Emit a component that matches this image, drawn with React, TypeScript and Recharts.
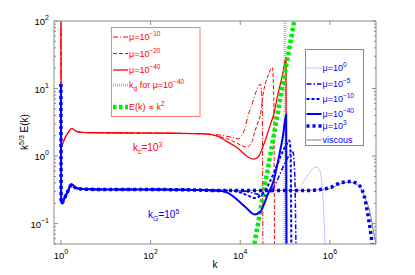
import React from 'react';
import { LineChart, Line, XAxis, YAxis } from 'recharts';

type Pt = [number, number];

const FONT = '"Liberation Sans", Arial, Helvetica, sans-serif';
const AXIS = '#8c8c8c';
const RED = '#ff0000';
const BLUE = '#0000ff';

const xTickExps = [0, 2, 4, 6];
const minorMults = [2, 3, 4, 5, 6, 7, 8, 9];
const xDomain: [number, number] = [0.7, 1.07e7];
const yDomain: [number, number] = [0.05, 100];

// k_d for mu = 1e-40, drawn as a vertical marker
const kdLine: Pt[] = [[1e5, 0.05], [1e5, 100]];

// red family, k_c = 1e3
const redStart: Pt[] = [[1, 100], [1.01, 1.44], [1.3, 2.0], [1.75, 2.55], [2.3, 2.3], [4, 2.22], [30, 2.2], [300, 2.18], [1500, 2.14]];
const red10: Pt[] = [[3200, 2.07], [6400, 1.9], [9100, 1.8], [1.07e4, 2.0], [1.3e4, 2.7], [1.5e4, 4.0], [1.8e4, 5.6], [2.3e4, 9.3], [2.8e4, 11.7], [3.1e4, 6], [3.2e4, 0.05]];
const red20: Pt[] = [[3200, 1.97], [6400, 1.7], [1.07e4, 1.44], [1.4e4, 1.36], [1.8e4, 1.6], [2.1e4, 2.26], [2.5e4, 3.2], [2.8e4, 4.0], [3.3e4, 8.8], [4.3e4, 16.4], [5.2e4, 20.5], [5.6e4, 8], [5.8e4, 0.05]];
const red40: Pt[] = [[3000, 2.0], [5000, 1.65], [9000, 1.3], [1.5e4, 0.97], [2e4, 0.9], [2.5e4, 0.97], [3.5e4, 1.6], [4.6e4, 2.8], [5.5e4, 4.0], [7e4, 8.5], [9e4, 17], [1.05e5, 29], [1.07e5, 0.05]];

// E(k) ~ k^2 reference
const greenK2: Pt[] = [[2.07e4, 0.05], [1.6e5, 100]];

// blue family, k_G = 1e5
const blueStart: Pt[] = [[1, 11.7], [1.01, 0.2], [1.35, 0.28], [1.75, 0.38], [2.1, 0.34], [3, 0.325], [10, 0.32], [100, 0.32], [1000, 0.315], [3000, 0.31]];
const blue0: Pt[] = [[1e5, 0.31], [1.8e5, 0.31], [3e5, 0.49], [5e5, 0.69], [6e5, 0.6], [6.8e5, 0.33], [7.4e5, 0.12], [7.8e5, 0.05]];
const blue5: Pt[] = [[8000, 0.31], [1.4e4, 0.3], [2.1e4, 0.28], [3.6e4, 0.26], [5e4, 0.31], [6.5e4, 0.42], [8.4e4, 0.62], [1.1e5, 0.9], [1.5e5, 1.15], [1.65e5, 0.5], [1.75e5, 0.05]];
const blue10: Pt[] = [[5000, 0.31], [1e4, 0.29], [1.5e4, 0.26], [2.1e4, 0.24], [2.8e4, 0.26], [3.6e4, 0.31], [4.6e4, 0.42], [6e4, 0.62], [8e4, 1.0], [1.05e5, 1.45], [1.25e5, 1.7], [1.33e5, 1.1], [1.38e5, 0.05]];
const blue40: Pt[] = [[5000, 0.29], [7700, 0.24], [1.3e4, 0.177], [2.1e4, 0.137], [2.8e4, 0.15], [4.2e4, 0.28], [5.5e4, 0.42], [7e4, 0.85], [9e4, 2.0], [1.06e5, 4.1], [1.08e5, 0.05]];
const blue3: Pt[] = [[3e5, 0.31], [6e5, 0.32], [1e6, 0.34], [1.7e6, 0.4], [2.8e6, 0.42], [4.3e6, 0.38], [5.8e6, 0.26], [7e6, 0.14], [8e6, 0.08], [8.8e6, 0.05]];
const viscous: Pt[] = [[3e5, 0.31], [6e5, 0.32], [1e6, 0.33], [1.7e6, 0.39], [2.8e6, 0.41], [4.3e6, 0.37], [6.2e6, 0.235], [7.8e6, 0.15], [9.9e6, 0.064], [1.07e7, 0.05]];

interface Style { stroke: string; width: number; dash?: string }

const sRed10: Style = { stroke: RED, width: 1, dash: '5 2 1 2' };
const sRed20: Style = { stroke: RED, width: 1, dash: '4 2' };
const sRed40: Style = { stroke: RED, width: 1.3 };
const sKd: Style = { stroke: '#ff9a9a', width: 3, dash: '1 1' };
const sGreen: Style = { stroke: '#00ee00', width: 4.5, dash: '3.5 2.5' };
const sBlue0: Style = { stroke: '#8c8cff', width: 1, dash: '1 1' };
const sBlue5: Style = { stroke: BLUE, width: 1.5, dash: '5 2 1.5 2' };
const sBlue10: Style = { stroke: BLUE, width: 2, dash: '3 2' };
const sBlue40: Style = { stroke: BLUE, width: 2 };
const sBlue3: Style = { stroke: BLUE, width: 3.5, dash: '3 3' };
const sVisc: Style = { stroke: '#808080', width: 1 };

const series: { key: string; pts: Pt[]; s: Style; curve: 'monotone' | 'linear' }[] = [
  { key: 'kd', pts: kdLine, s: sKd, curve: 'linear' },
  { key: 'red10', pts: [...redStart, ...red10], s: sRed10, curve: 'monotone' },
  { key: 'red20', pts: [...redStart, ...red20], s: sRed20, curve: 'monotone' },
  { key: 'red40', pts: [...redStart, ...red40], s: sRed40, curve: 'monotone' },
  { key: 'green', pts: greenK2, s: sGreen, curve: 'linear' },
  { key: 'viscous', pts: [...blueStart, ...viscous], s: sVisc, curve: 'monotone' },
  { key: 'blue0', pts: [...blueStart, ...blue0], s: sBlue0, curve: 'monotone' },
  { key: 'blue5', pts: [...blueStart, ...blue5], s: sBlue5, curve: 'monotone' },
  { key: 'blue10', pts: [...blueStart, ...blue10], s: sBlue10, curve: 'monotone' },
  { key: 'blue40', pts: [...blueStart, ...blue40], s: sBlue40, curve: 'monotone' },
  { key: 'blue3', pts: [...blueStart, ...blue3], s: sBlue3, curve: 'monotone' },
];

const xTicks = xTickExps.map((e) => 10 ** e);
const yTicks: number[] = [];
for (let e = -2; e <= 2; e++) {
  for (const m of [1, ...minorMults]) {
    const v = m * 10 ** e;
    if (v >= yDomain[0] - 1e-9 && v <= yDomain[1] + 1e-9) yTicks.push(v);
  }
}

const isMajor = (v: number) => Math.abs(Math.log10(v) - Math.round(Math.log10(v))) < 1e-6;
const expText = (v: number) => {
  const e = Math.round(Math.log10(v));
  return e < 0 ? '\u2212' + Math.abs(e) : String(e);
};

const BottomTick = (p: any) => (
  <g>
    <line x1={p.x} x2={p.x} y1={p.y} y2={p.y - 4} stroke={AXIS} />
    <text x={p.x} y={p.y + 15} textAnchor="middle" fontSize={9.5} fontFamily={FONT} fill="#000">
      10<tspan dy={-5} fontSize={7}>{expText(p.payload.value)}</tspan>
    </text>
  </g>
);
const TopTick = (p: any) => <line x1={p.x} x2={p.x} y1={p.y} y2={p.y + 4} stroke={AXIS} />;
const LeftTick = (p: any) => {
  const major = isMajor(p.payload.value);
  return (
    <g>
      <line x1={p.x} x2={p.x + (major ? 4 : 2)} y1={p.y} y2={p.y} stroke={AXIS} />
      {major && (
        <text x={p.x - 5} y={p.y + 4} textAnchor="end" fontSize={9.5} fontFamily={FONT} fill="#000">
          10<tspan dy={-5} fontSize={7}>{expText(p.payload.value)}</tspan>
        </text>
      )}
    </g>
  );
};
const RightTick = (p: any) => {
  const major = isMajor(p.payload.value);
  return <line x1={p.x} x2={p.x - (major ? 4 : 2)} y1={p.y} y2={p.y} stroke={AXIS} />;
};

const SUP = 6.5;

function LegendRow({ x, y, s, color, children }: { x: number; y: number; s: Style; color: string; children: React.ReactNode }) {
  return (
    <g>
      <line x1={x} x2={x + 15} y1={y - 3} y2={y - 3} stroke={s.stroke} strokeWidth={s.width} strokeDasharray={s.dash} />
      <text x={x + 16} y={y} fontSize={9} fontFamily={FONT} fill={color}>
        {children}
      </text>
    </g>
  );
}

function Overlay() {
  return (
    <svg width={415} height={275} style={{ position: 'absolute', left: 0, top: 0, pointerEvents: 'none' }}>
      <text transform="translate(28,132) rotate(-90)" textAnchor="middle" fontSize={10} fontFamily={FONT} fill="#000">
        k<tspan dy={-4} fontSize={7}>5/3</tspan><tspan dy={4}> E(k)</tspan>
      </text>
      <text x={215} y={268} textAnchor="middle" fontSize={10} fontFamily={FONT} fill="#000">k</text>

      <text x={133} y={151} fontSize={10} fontFamily={FONT} fill={RED}>
        k<tspan dy={3} fontSize={7}>c</tspan><tspan dy={-3}>=10</tspan><tspan dy={-4} fontSize={7}>3</tspan>
      </text>
      <text x={148} y={218} fontSize={10} fontFamily={FONT} fill={BLUE}>
        k<tspan dy={3} fontSize={7}>G</tspan><tspan dy={-3}>=10</tspan><tspan dy={-4} fontSize={7}>5</tspan>
      </text>

      <rect x={111.5} y={27.5} width={88.5} height={89} fill="#fff" stroke="#ff7a7a" />
      <LegendRow x={113} y={40} s={sRed10} color={RED}>μ=10<tspan dy={-4} fontSize={SUP}>−10</tspan></LegendRow>
      <LegendRow x={113} y={56.5} s={sRed20} color={RED}>μ=10<tspan dy={-4} fontSize={SUP}>−20</tspan></LegendRow>
      <LegendRow x={113} y={73} s={sRed40} color={RED}>μ=10<tspan dy={-4} fontSize={SUP}>−40</tspan></LegendRow>
      <LegendRow x={113} y={88} s={sKd} color={RED}>
        k<tspan dy={2.5} fontSize={SUP}>d</tspan><tspan dy={-2.5}> for μ=10</tspan><tspan dy={-4} fontSize={SUP}>−40</tspan>
      </LegendRow>
      <LegendRow x={113} y={110} s={sGreen} color={RED}>E(k) ∝ k<tspan dy={-4} fontSize={SUP}>2</tspan></LegendRow>

      <rect x={305.5} y={49.5} width={58} height={96} fill="#fff" stroke="#7a7aff" />
      <LegendRow x={306.5} y={71} s={sBlue0} color={BLUE}>μ=10<tspan dy={-4} fontSize={SUP}>0</tspan></LegendRow>
      <LegendRow x={306.5} y={87} s={sBlue5} color={BLUE}>μ=10<tspan dy={-4} fontSize={SUP}>−5</tspan></LegendRow>
      <LegendRow x={306.5} y={102} s={sBlue10} color={BLUE}>μ=10<tspan dy={-4} fontSize={SUP}>−10</tspan></LegendRow>
      <LegendRow x={306.5} y={117} s={sBlue40} color={BLUE}>μ=10<tspan dy={-4} fontSize={SUP}>−40</tspan></LegendRow>
      <LegendRow x={306.5} y={129} s={sBlue3} color={BLUE}>μ=10<tspan dy={-4} fontSize={SUP}>3</tspan></LegendRow>
      <LegendRow x={306.5} y={143} s={sVisc} color={BLUE}>viscous</LegendRow>
    </svg>
  );
}

export default function App() {
  return (
    <div style={{ position: 'absolute', left: 0, top: 0, width: 415, height: 275, background: '#fff' }}>
      <LineChart width={415} height={275} margin={{ top: 20, right: 38, bottom: 11, left: 24 }}>
        <XAxis
          dataKey="k"
          type="number"
          scale="log"
          domain={xDomain}
          allowDataOverflow
          ticks={xTicks}
          interval={0}
          height={20}
          tickSize={0}
          tickMargin={0}
          tick={BottomTick}
          axisLine={{ stroke: AXIS }}
        />
        <XAxis
          xAxisId="top"
          orientation="top"
          dataKey="k"
          type="number"
          scale="log"
          domain={xDomain}
          allowDataOverflow
          ticks={xTicks}
          interval={0}
          height={1}
          tickSize={0}
          tickMargin={0}
          tick={TopTick}
          axisLine={{ stroke: AXIS }}
        />
        <YAxis
          type="number"
          scale="log"
          domain={yDomain}
          allowDataOverflow
          ticks={yTicks}
          interval={0}
          width={30}
          tickSize={0}
          tickMargin={0}
          tick={LeftTick}
          axisLine={{ stroke: AXIS }}
        />
        <YAxis
          yAxisId="right"
          orientation="right"
          type="number"
          scale="log"
          domain={yDomain}
          allowDataOverflow
          ticks={yTicks}
          interval={0}
          width={1}
          tickSize={0}
          tickMargin={0}
          tick={RightTick}
          axisLine={{ stroke: AXIS }}
        />
        {series.map((sr) => (
          <Line
            key={sr.key}
            data={sr.pts.map(([k, v]) => ({ k, v }))}
            dataKey="v"
            type={sr.curve}
            stroke={sr.s.stroke}
            strokeWidth={sr.s.width}
            strokeDasharray={sr.s.dash}
            dot={false}
            activeDot={false}
            isAnimationActive={false}
          />
        ))}
      </LineChart>
      <Overlay />
    </div>
  );
}
